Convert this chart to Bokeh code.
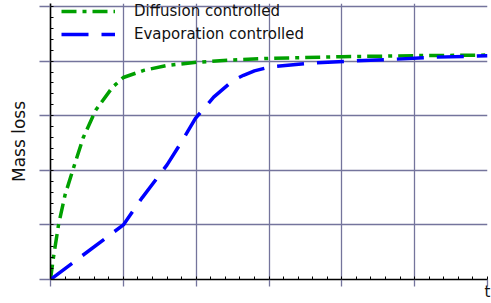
from bokeh.plotting import figure
from bokeh.models import Range1d, FixedTicker, Legend, LegendItem, CustomJSTickFormatter
from bokeh.embed import file_html
from bokeh.resources import INLINE

# ---- data ----
t_diffusion = [0, 0.04, 0.11, 0.2, 0.32, 0.45, 0.62, 0.85, 1.0, 1.28, 1.6, 2.02, 2.5, 3.0, 4.0, 5.0, 6.0]
m_diffusion = [0, 0.4, 1.0, 1.55, 2.06, 2.6, 3.1, 3.52, 3.7, 3.83, 3.92, 3.98, 4.02, 4.05, 4.08, 4.1, 4.11]

t_evaporation = [0, 1.0, 1.26, 1.6, 1.79, 1.99, 2.24, 2.51, 2.65, 2.8, 3.0, 3.53, 4.12, 4.67, 5.22, 5.81, 6.0]
m_evaporation = [0, 1.0, 1.5, 2.1, 2.5, 2.95, 3.34, 3.65, 3.74, 3.82, 3.89, 3.96, 4.0, 4.03, 4.07, 4.09, 4.1]

x_major = [0, 1, 2, 3, 4, 5, 6]
y_major = [0, 1, 2, 3, 4, 5]
x_minor = [i * 0.2 for i in range(0, 31)]
y_minor = [i * 0.2 for i in range(0, 26)]

label_diffusion = "Diffusion controlled"
label_evaporation = "Evaporation controlled"
x_title = "t"
y_title = "Mass loss"

FONT = "DejaVu Sans"
GRID = "#74749c"

p = figure(width=491, height=303, output_backend="svg", toolbar_location=None,
           x_range=Range1d(0, 6.0), y_range=Range1d(0, 5.055),
           min_border_left=50, min_border_right=4, min_border_top=3, min_border_bottom=23)
p.outline_line_color = None
p.background_fill_color = "white"
p.border_fill_color = "white"

xt = FixedTicker(ticks=x_major, minor_ticks=x_minor)
yt = FixedTicker(ticks=y_major, minor_ticks=y_minor)
p.xaxis.ticker = xt
p.yaxis.ticker = yt
p.xgrid.ticker = xt
p.ygrid.ticker = yt
for g in (p.xgrid, p.ygrid):
    g.grid_line_color = GRID
    g.grid_line_width = 1.3

blank = CustomJSTickFormatter(code="return ''")
for ax in (p.xaxis, p.yaxis):
    ax.formatter = blank
    ax.major_label_text_font_size = "0px"
    ax.major_label_standoff = 0
    ax.axis_line_color = "black"
    ax.axis_line_width = 1.6
    ax.major_tick_line_color = GRID
    ax.major_tick_line_width = 1.3
    ax.major_tick_in = 0
    ax.minor_tick_line_color = "black"
    ax.minor_tick_line_width = 1
    ax.minor_tick_in = 3
    ax.minor_tick_out = 0
    ax.axis_label_text_font = FONT
    ax.axis_label_text_font_style = "normal"
    ax.axis_label_text_color = "#111111"
p.yaxis.major_tick_out = 11
p.xaxis.major_tick_out = 7

p.yaxis.axis_label = y_title
p.yaxis.axis_label_text_font_size = "17px"
p.yaxis.axis_label_standoff = 11

xa = p.xaxis[0]
xa.axis_label = x_title
xa.axis_label_align = "end"
xa.axis_label_text_font_size = "15px"
xa.axis_label_standoff = -4

r_d = p.line(t_diffusion, m_diffusion, line_color="#00a000", line_width=3.5,
             line_dash="15 6 4 6")
r_e = p.line(t_evaporation, m_evaporation, line_color="#0000ff", line_width=3.5,
             line_dash="27 13")

legend = Legend(items=[LegendItem(label=label_diffusion, renderers=[r_d]),
                       LegendItem(label=label_evaporation, renderers=[r_e])],
                location=(11, 236), border_line_color=None, background_fill_alpha=0,
                padding=0, margin=0, glyph_width=54, glyph_height=18, label_height=18,
                spacing=5, label_standoff=19, label_text_font=FONT,
                label_text_font_size="15px", label_text_color="#111111")
p.add_layout(legend)

open("out.html", "w").write(file_html(p, INLINE))
